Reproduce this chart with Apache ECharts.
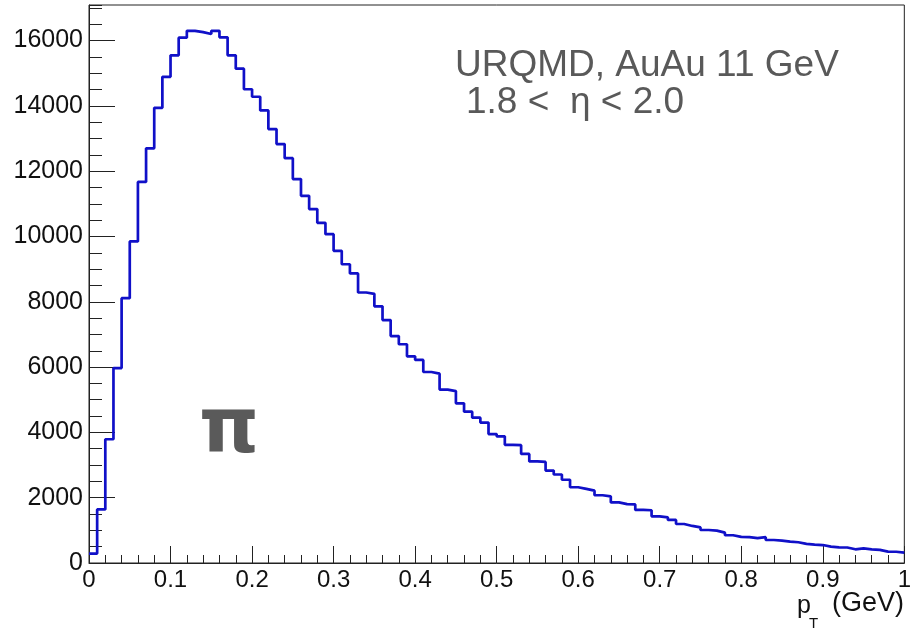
<!DOCTYPE html>
<html>
<head>
<meta charset="utf-8">
<script src="https://cdn.jsdelivr.net/npm/echarts@6/dist/echarts.min.js"></script>
<style>
html,body{margin:0;padding:0;background:#fff;}
#chart{width:914px;height:633px;}
</style>
</head>
<body>
<div id="chart"></div>
<script>
// Histogram binning (pT, GeV)
const xMin = 0;
const xMax = 1;
const nBins = 100;
// Bin contents (counts per 0.01 GeV bin)
const counts = [
  290, 1640, 3790, 5970, 8110, 9850, 11670, 12700, 13940, 14890,
  15550, 16090, 16300, 16260, 16200, 16300, 16100, 15550, 15140, 14510,
  14280, 13860, 13290, 12830, 12400, 11760, 11245, 10840, 10420, 10070,
  9560, 9150, 8870, 8285, 8245, 7860, 7440, 6950, 6700, 6330,
  6220, 5850, 5800, 5310, 5265, 4890, 4635, 4450, 4300, 3950,
  3880, 3620, 3610, 3340, 3110, 3095, 2830, 2710, 2550, 2320,
  2270, 2215, 2075, 2040, 1855, 1805, 1795, 1625, 1615, 1430,
  1395, 1320, 1195, 1135, 1090, 1010, 990, 930, 850, 800,
  790, 760, 790, 705, 685, 655, 635, 585, 565, 550,
  500, 480, 475, 420, 450, 420, 400, 350, 345, 315
];
const yMax = 17090;
const yTickStep = 2000;
const yMinorStep = 500;
const xTickStep = 0.1;
const annotationLines = ['URQMD, AuAu 11 GeV', '1.8 <  \u03b7 < 2.0'];
const particleLabel = '\u03c0';

const binW = (xMax - xMin) / nBins;
const stepData = counts.map((v, i) => [+(xMin + i * binW).toFixed(4), v]);
stepData.push([xMax, counts[counts.length - 1]]);

const font = 'Liberation Sans, Arial, Helvetica, sans-serif';
const chart = echarts.init(document.getElementById('chart'));
chart.setOption({
  animation: false,
  backgroundColor: '#fff',
  grid: { left: 89, right: 6, top: 5, bottom: 70, show: true, borderColor: '#222', borderWidth: 1, backgroundColor: 'transparent' },
  xAxis: {
    type: 'value', min: xMin, max: xMax, interval: xTickStep,
    axisLine: { show: true, lineStyle: { color: '#222', width: 1 } },
    axisTick: { show: true, inside: true, length: 17, lineStyle: { color: '#222' } },
    minorTick: { show: true, splitNumber: 5, length: 8, lineStyle: { color: '#222' } },
    splitLine: { show: false },
    axisLabel: { color: '#111', fontFamily: font, fontSize: 24, margin: 5, formatter: v => String(v) }
  },
  yAxis: [{
    type: 'value', min: 0, max: yMax, interval: yTickStep,
    axisLine: { show: true, lineStyle: { color: '#222', width: 1 } },
    axisTick: { show: true, inside: true, length: 26, lineStyle: { color: '#222' } },
    splitLine: { show: false },
    axisLabel: { color: '#111', fontFamily: font, fontSize: 25, margin: 6, showMaxLabel: false, formatter: v => String(v) }
  }, {
    type: 'value', min: 0, max: yMax, interval: yMinorStep, position: 'left',
    axisLine: { show: false },
    axisTick: { show: true, inside: true, length: 13, lineStyle: { color: '#222' } },
    splitLine: { show: false },
    axisLabel: { show: false }
  }],
  series: [{
    type: 'line', step: 'end', data: stepData, symbol: 'none',
    lineStyle: { color: '#1010c8', width: 2.7 },
    yAxisIndex: 0, z: 3
  }],
  graphic: [
    { type: 'text', left: 455, top: 47, style: { text: annotationLines[0], font: '37px ' + font, fill: '#595959' } },
    { type: 'text', left: 466, top: 84, style: { text: annotationLines[1], font: '37px ' + font, fill: '#595959' } },
    { type: 'text', left: 199, top: 394, style: { text: particleLabel, font: 'bold 76px DejaVu Sans, sans-serif', fill: '#5a5a5a' } },
    { type: 'text', left: 797, top: 594, style: { text: 'p', font: '25px ' + font, fill: '#111' } },
    { type: 'text', left: 809, top: 616, style: { text: 'T', font: '15px ' + font, fill: '#111' } },
    { type: 'text', left: 832, top: 590, style: { text: '(GeV)', font: '27px ' + font, fill: '#111' } }
  ]
});
</script>
</body>
</html>
